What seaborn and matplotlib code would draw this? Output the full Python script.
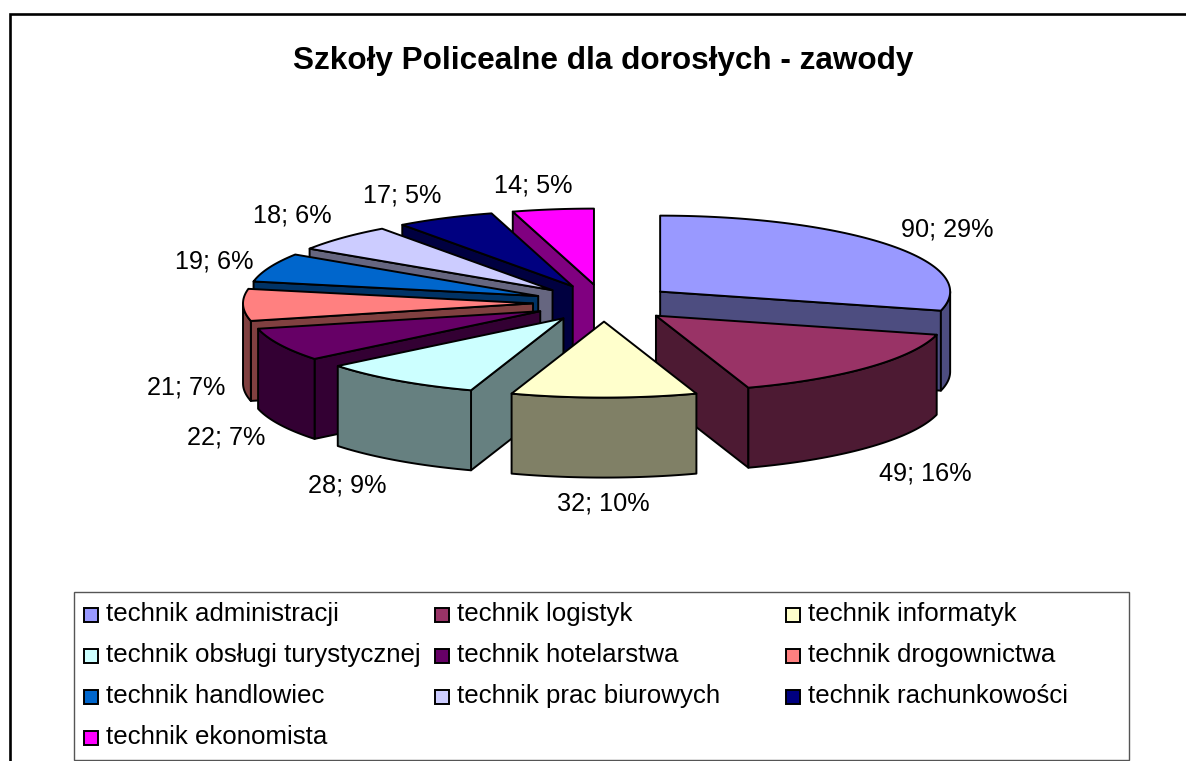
# plot.py
# Exploded 3D-look pie, drawn as projected polygons on a pixel-sized axes

import numpy as np
import matplotlib
matplotlib.use("Agg")
import matplotlib.pyplot as plt
from matplotlib.patches import Polygon, Rectangle
import seaborn as sns

# ---------------------------
# Data
# ---------------------------
title = "Szkoły Policealne dla dorosłych - zawody"
categories = [
    "technik administracji", "technik logistyk", "technik informatyk",
    "technik obsługi turystycznej", "technik hotelarstwa", "technik drogownictwa",
    "technik handlowiec", "technik prac biurowych", "technik rachunkowości",
    "technik ekonomista",
]
values = [90, 49, 32, 28, 22, 21, 19, 18, 17, 14]
colors = ["#9999FF", "#993366", "#FFFFCC", "#CCFFFF", "#660066",
          "#FF8080", "#0066CC", "#CCCCFF", "#000080", "#FF00FF"]

# label centres in pixels, same order as values
label_x = [947, 925, 603, 347, 226, 186, 214, 292, 402, 533]
label_y = [229, 473, 504, 485, 437, 387, 261, 215, 196, 185]

# ---------------------------
# Projection of the pie
# ---------------------------
CX, CY = 604, 303   # pie centre
R = 290             # horizontal radius
K = 0.262           # ellipse squash
DEPTH = 80          # extrusion
EXPLODE = 71

sns.set_theme(style="white")
plt.rcParams["font.family"] = ["Liberation Sans", "DejaVu Sans"]
palette = sns.color_palette(colors)

fig = plt.figure(figsize=(11.86, 7.61), dpi=100)
ax = fig.add_axes([0, 0, 1, 1])
ax.set_xlim(0, 1186)
ax.set_ylim(761, 0)
ax.axis("off")

LW = 1.4


def face(points, color):
    ax.add_patch(Polygon(points, closed=True, facecolor=color, edgecolor="black",
                         linewidth=LW, joinstyle="round"))


total = sum(values)
edges = np.cumsum([0] + values) / total * 2 * np.pi
slices = []
for i in range(len(values)):
    slices.append((edges[i], edges[i + 1], i))
# back slices first
slices.sort(key=lambda s: -np.cos((s[0] + s[1]) / 2))

for start, end, i in slices:
    mid = (start + end) / 2
    ax0 = CX + EXPLODE * np.sin(mid)
    ay0 = CY - EXPLODE * K * np.cos(mid)
    top = np.array(palette[i])
    side = top * 0.5

    def rim(t):
        return np.column_stack([ax0 + R * np.sin(t), ay0 - R * K * np.cos(t)])

    arc = rim(np.linspace(start, end, 80))
    apex = np.array([ax0, ay0])
    down = np.array([0, DEPTH])

    # cut faces, only those turned to the viewer
    if np.sin(start) < 0:
        face([apex, arc[0], arc[0] + down, apex + down], side)
    if np.sin(end) > 0:
        face([apex, arc[-1], arc[-1] + down, apex + down], side)

    # outer wall, front half only
    lo, hi = max(start, np.pi / 2), min(end, 3 * np.pi / 2)
    if hi > lo:
        wall = rim(np.linspace(lo, hi, 60))
        face(np.vstack([wall, (wall + down)[::-1]]), side)

    face(np.vstack([apex, arc]), top)

# ---------------------------
# Text
# ---------------------------
ax.text(603, 61, title, ha="center", va="center", fontsize=22.7, fontweight="bold", color="black")

for v, x, y in zip(values, label_x, label_y):
    ax.text(x, y, f"{v}; {round(v / total * 100)}%", ha="center", va="center",
            fontsize=18.2, color="black")

# outer frame, open on the right as in the crop
ax.plot([9.5, 9.5, 1186], [761, 14, 14], color="black", linewidth=1.9, solid_joinstyle="miter")

# ---------------------------
# Legend
# ---------------------------
ax.add_patch(Rectangle((74, 592), 1055, 168, facecolor="white", edgecolor="#555555", linewidth=1))
for n, name in enumerate(categories):
    row, col = n // 3, n % 3
    lx = 84 + col * 351
    ly = 614.5 + row * 41.2
    ax.add_patch(Rectangle((lx, ly - 7), 14, 14, facecolor=palette[n], edgecolor="black", linewidth=1.4))
    ax.text(lx + 22, ly - 1, name, ha="left", va="center", fontsize=18.6, color="black")

fig.savefig("out.png", dpi=100)
